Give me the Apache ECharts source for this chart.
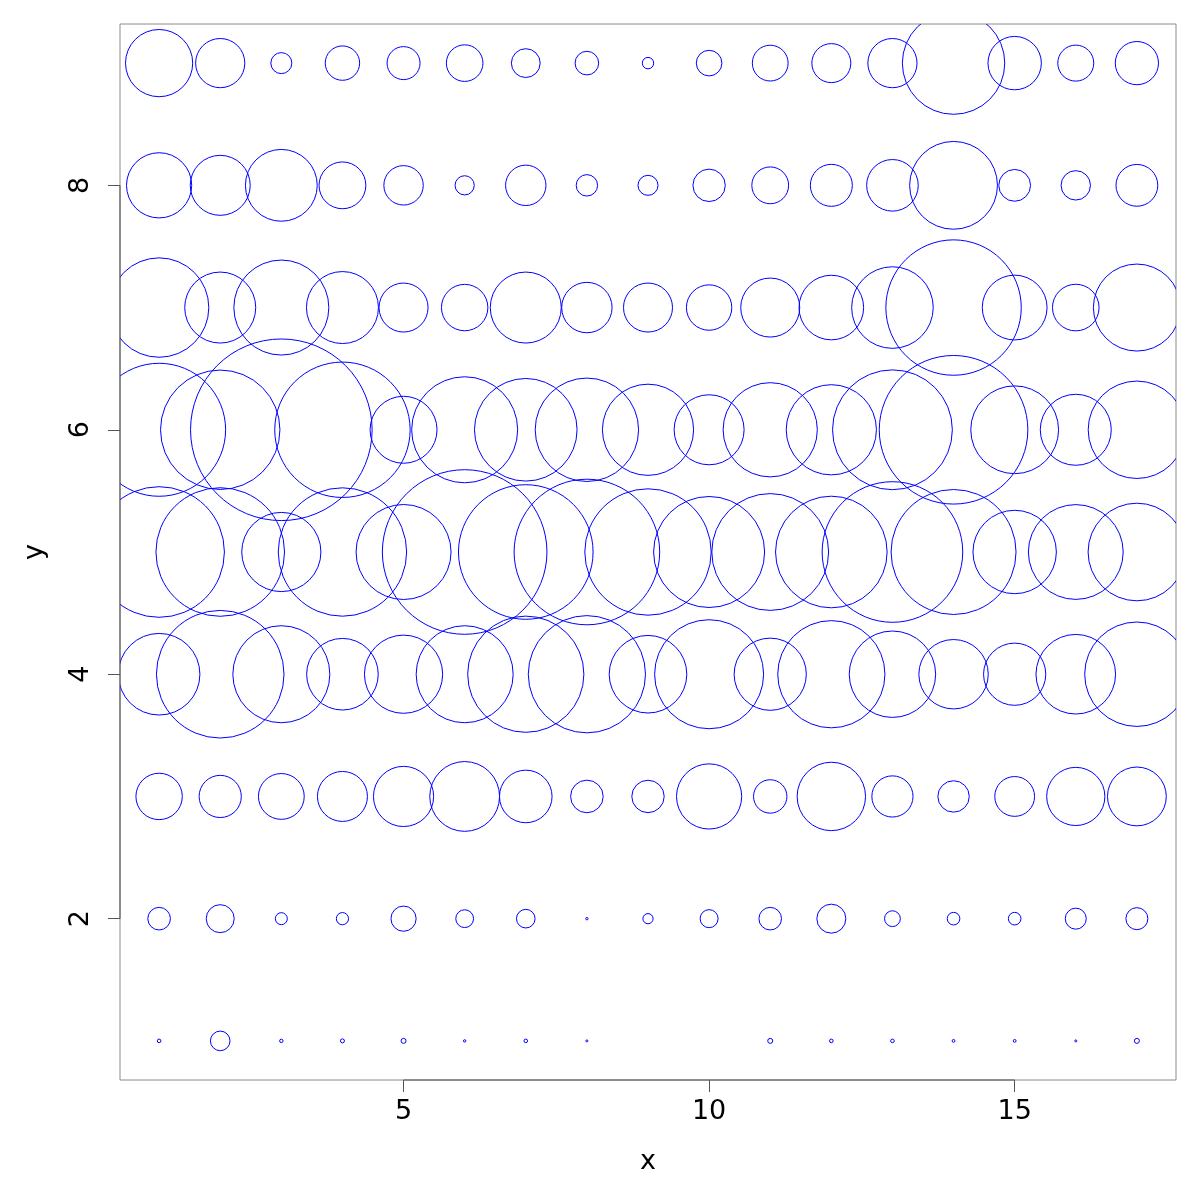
<!DOCTYPE html>
<html>
<head>
<meta charset="utf-8">
<script src="https://cdn.jsdelivr.net/npm/echarts@6/dist/echarts.min.js"></script>
<style>
html,body{margin:0;padding:0;background:#fff;}
#chart{width:1200px;height:1200px;}
</style>
</head>
<body>
<div id="chart"></div>
<script>
// ---- data (circle magnitude z at each (x, y)) ----
const xValues = [1,2,3,4,5,6,7,8,9,10,11,12,13,14,15,16,17];
const yValues = [1,2,3,4,5,6,7,8,9];
const zRow1 = [1.8, 9.8, 1.7, 2.0, 2.5, 1.2, 1.8, 1.0, 0, 0, 2.5, 1.8, 1.8, 1.4, 1.4, 1.0, 2.5];
const zRow2 = [11.3, 14.0, 6.0, 6.1, 12.6, 8.9, 9.3, 1.2, 5.1, 9.0, 11.3, 14.5, 7.9, 6.3, 6.3, 10.5, 11.0];
const zRow3 = [23.2, 21.1, 22.9, 25.0, 30.1, 34.9, 26.3, 16.3, 16.2, 32.6, 16.7, 34.2, 20.6, 15.7, 19.9, 29.1, 29.4];
const zRow4 = [40.8, 63.8, 48.5, 35.8, 39.1, 48.5, 58.1, 58.6, 38.8, 54.5, 36.1, 53.6, 43.2, 34.7, 31.1, 39.8, 52.2];
const zRow5 = [65.3, 64.3, 39.6, 64.2, 47.5, 82.3, 67.3, 72.8, 63.2, 55.5, 58.4, 55.8, 70.3, 62.5, 41.7, 47.4, 48.8];
const zRow6 = [66.5, 59.7, 90.8, 67.7, 33.5, 53.0, 51.3, 51.7, 45.6, 35.0, 47.1, 45.1, 59.9, 74.3, 43.9, 35.5, 48.7];
const zRow7 = [49.7, 35.5, 47.5, 36.0, 24.5, 23.2, 35.5, 25.2, 24.5, 22.7, 29.5, 32.3, 40.8, 67.7, 32.4, 23.3, 43.5];
const zRow8 = [32.6, 30.0, 35.9, 23.4, 19.7, 9.6, 20.2, 10.7, 10.0, 16.2, 18.4, 21.0, 25.8, 43.9, 15.9, 14.7, 20.9];
const zRow9 = [33.6, 24.6, 10.5, 17.2, 16.5, 18.3, 14.4, 11.8, 5.7, 12.8, 17.9, 19.5, 24.6, 51.2, 26.7, 18.0, 21.6];
const zRows = [zRow1, zRow2, zRow3, zRow4, zRow5, zRow6, zRow7, zRow8, zRow9];

const xTicks = [5, 10, 15];
const yTicks = [2, 4, 6, 8];
const xLabel = 'x';
const yLabel = 'y';

// ---- build points ----
const points = [];
yValues.forEach((y, i) => {
  xValues.forEach((x, j) => {
    const z = zRows[i][j];
    if (z > 0) points.push([x, y, z]);
  });
});

// R-style 4% axis extension
const xMinD = Math.min(...xValues), xMaxD = Math.max(...xValues);
const yMinD = Math.min(...yValues), yMaxD = Math.max(...yValues);
const X_MIN = xMinD - 0.04 * (xMaxD - xMinD), X_MAX = xMaxD + 0.04 * (xMaxD - xMinD);
const Y_MIN = yMinD - 0.04 * (yMaxD - yMinD), Y_MAX = yMaxD + 0.04 * (yMaxD - yMinD);

// largest circle radius in pixels (like symbols(..., inches=1))
const MAX_RADIUS_PX = 90.8;
let zMax = 0;
zRows.forEach(r => r.forEach(v => { if (v > zMax) zMax = v; }));
const rScale = MAX_RADIUS_PX / zMax;

const FONT = 'DejaVu Sans';
const chart = echarts.init(document.getElementById('chart'), null, {renderer: 'canvas'});

const option = {
  animation: false,
  backgroundColor: '#ffffff',
  grid: {
    left: 120, top: 24, width: 1056, height: 1056,
    show: true, borderColor: '#8a8a8a', borderWidth: 1, backgroundColor: 'transparent'
  },
  xAxis: {
    type: 'value', min: X_MIN, max: X_MAX,
    splitLine: {show: false},
    axisLine: {show: false},
    axisTick: {show: true, customValues: xTicks, length: 12, lineStyle: {color: '#555', width: 1}},
    axisLabel: {customValues: xTicks, fontSize: 27, color: '#000', fontFamily: FONT, margin: 18},
    name: xLabel, nameLocation: 'middle', nameGap: 68,
    nameTextStyle: {fontSize: 27, color: '#000', fontFamily: FONT}
  },
  yAxis: {
    type: 'value', min: Y_MIN, max: Y_MAX,
    splitLine: {show: false},
    axisLine: {show: false},
    axisTick: {show: true, customValues: yTicks, length: 12, lineStyle: {color: '#555', width: 1}},
    axisLabel: {customValues: yTicks, fontSize: 27, color: '#000', fontFamily: FONT, margin: 26, rotate: 90},
    name: yLabel, nameLocation: 'middle', nameGap: 72,
    nameTextStyle: {fontSize: 27, color: '#000', fontFamily: FONT}
  },
  series: [
    {
      type: 'custom',
      clip: true,
      silent: true,
      data: points,
      encode: {x: 0, y: 1},
      renderItem: function (params, api) {
        const c = api.coord([api.value(0), api.value(1)]);
        const r = api.value(2) * rScale;
        return {
          type: 'circle',
          shape: {cx: c[0], cy: c[1], r: r},
          style: {fill: 'none', stroke: '#0000ff', lineWidth: 1}
        };
      }
    },
    {
      type: 'line', silent: true, clip: false, symbol: 'none',
      data: [[X_MIN, yTicks[0]], [X_MIN, yTicks[yTicks.length - 1]]],
      lineStyle: {color: '#555', width: 1}
    },
    {
      type: 'line', silent: true, clip: false, symbol: 'none',
      data: [[xTicks[0], Y_MIN], [xTicks[xTicks.length - 1], Y_MIN]],
      lineStyle: {color: '#555', width: 1}
    }
  ]
};
chart.setOption(option);
</script>
</body>
</html>
